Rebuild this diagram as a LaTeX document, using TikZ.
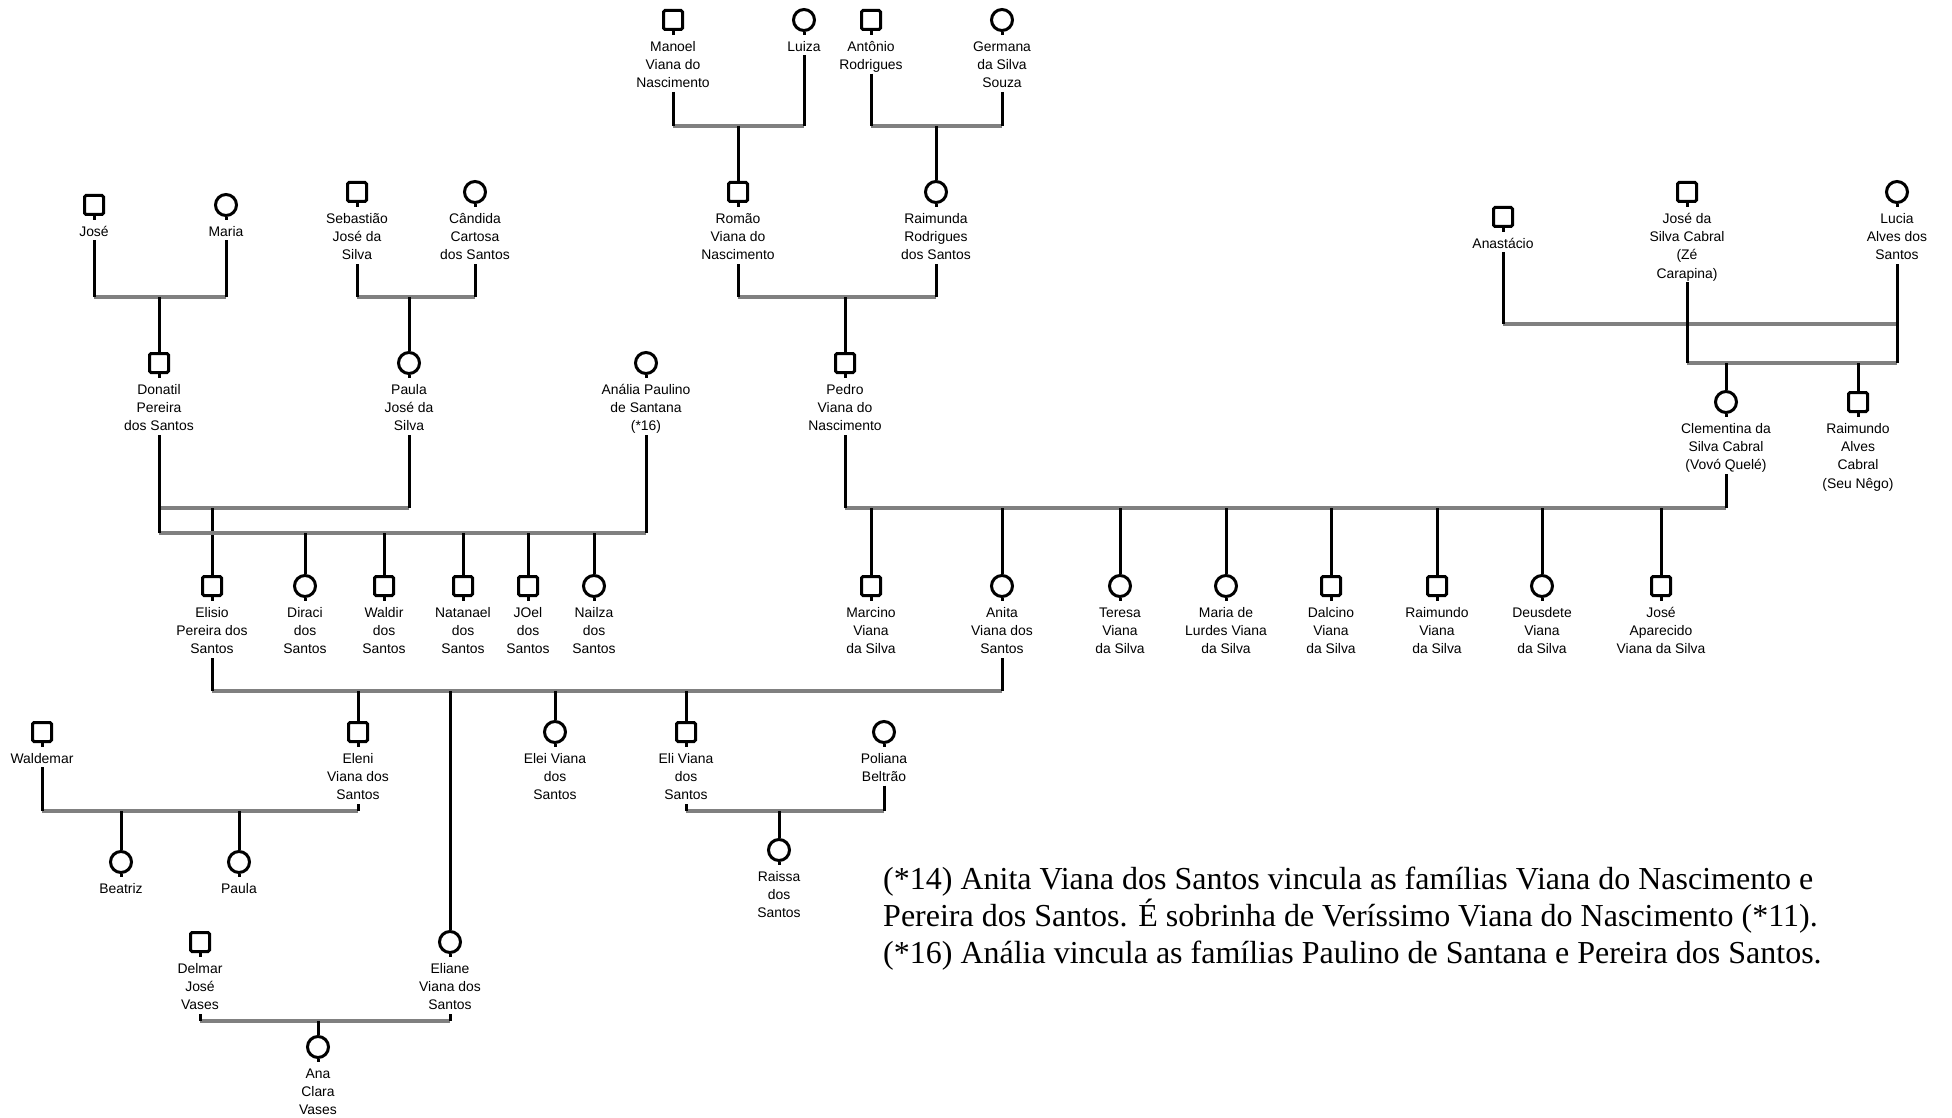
\documentclass[tikz,border=0pt]{standalone}
\usepackage{fontspec}
\newfontfamily\labfont{Liberation Sans}
\newfontfamily\notefont{Liberation Serif}
\definecolor{bargray}{RGB}{128,128,128}

% one person: name, symbol style, x, y, label lines
\newcommand\person[5]{%
  \node[#2] (#1) at (#3,#4) {};
  \node[lbl, anchor=north] (#1-l) at ([yshift=-18.2pt]#1.center)
    {\rule{0pt}{12.8pt}#5\rule[-4pt]{0pt}{4pt}};
  \draw[tie] (#1.south) -- ([yshift=3pt]#1-l.north);
}
% union bar between two partners at a given depth
\newcommand\couple[3]{%
  \coordinate (#1#2) at (0,#3);
  \draw[unionbar] (#1-l.south |- #1#2) -- (#2-l.south |- #1#2);
  \draw[tie] (#1-l.south) -- (#1-l.south |- #1#2);
  \draw[tie] (#2-l.south) -- (#2-l.south |- #1#2);
}
% descent line from a union bar to a child
\newcommand\kid[2]{%
  \draw[tie] (#2.north |- #1) -- (#2.north);
}

\begin{document}
\begin{tikzpicture}[x=1pt,y=-1pt,
  msq/.style={rectangle, draw, line width=3pt, minimum size=19pt, inner sep=0pt, rounded corners=1.5pt},
  fci/.style={circle, draw, line width=3pt, minimum size=21pt, inner sep=0pt},
  lbl/.style={font=\labfont\fontsize{13.9}{18.3}\selectfont, align=center, inner sep=0pt},
  tie/.style={line width=3pt, black},
  unionbar/.style={line width=4pt, draw=bargray},
  note/.style={font=\notefont\fontsize{32}{37}\selectfont, inner sep=0pt, anchor=base west}]
\useasboundingbox (0,0) rectangle (1952,1118);

% first generation
\person{manoel}{msq}{673}{20}{Manoel\\Viana do\\Nascimento}
\person{luiza}{fci}{804}{20}{Luiza}
\person{antonio}{msq}{871}{20}{Antônio\\Rodrigues}
\person{germana}{fci}{1002}{20}{Germana\\da Silva\\Souza}

% second generation
\person{jose}{msq}{94}{205}{José}
\person{maria}{fci}{226}{205}{Maria}
\person{sebastiao}{msq}{357}{192}{Sebastião\\José da\\Silva}
\person{candida}{fci}{475}{192}{Cândida\\Cartosa\\dos Santos}
\person{romao}{msq}{738}{192}{Romão\\Viana do\\Nascimento}
\person{raimunda}{fci}{936}{192}{Raimunda\\Rodrigues\\dos Santos}
\person{anastacio}{msq}{1503}{217}{Anastácio}
\person{josecabral}{msq}{1687}{192}{José da\\Silva Cabral\\(Zé\\Carapina)}
\person{lucia}{fci}{1897}{192}{Lucia\\Alves dos\\Santos}

% third generation
\person{donatil}{msq}{159}{363}{Donatil\\Pereira\\dos Santos}
\person{paula}{fci}{409}{363}{Paula\\José da\\Silva}
\person{analia}{fci}{646}{363}{Anália Paulino\\de Santana\\(*16)}
\person{pedro}{msq}{845}{363}{Pedro\\Viana do\\Nascimento}
\person{clementina}{fci}{1726}{402}{Clementina da\\Silva Cabral\\(Vovó Quelé)}
\person{raimundoc}{msq}{1858}{402}{Raimundo\\Alves\\Cabral\\(Seu Nêgo)}

% fourth generation
\person{elisio}{msq}{212}{586}{Elisio\\Pereira dos\\Santos}
\person{diraci}{fci}{305}{586}{Diraci\\dos\\Santos}
\person{waldir}{msq}{384}{586}{Waldir\\dos\\Santos}
\person{natanael}{msq}{463}{586}{Natanael\\dos\\Santos}
\person{joel}{msq}{528}{586}{JOel\\dos\\Santos}
\person{nailza}{fci}{594}{586}{Nailza\\dos\\Santos}
\person{marcino}{msq}{871}{586}{Marcino\\Viana\\da Silva}
\person{anita}{fci}{1002}{586}{Anita\\Viana dos\\Santos}
\person{teresa}{fci}{1120}{586}{Teresa\\Viana\\da Silva}
\person{mariadl}{fci}{1226}{586}{Maria de\\Lurdes Viana\\da Silva}
\person{dalcino}{msq}{1331}{586}{Dalcino\\Viana\\da Silva}
\person{raimundov}{msq}{1437}{586}{Raimundo\\Viana\\da Silva}
\person{deusdete}{fci}{1542}{586}{Deusdete\\Viana\\da Silva}
\person{joseap}{msq}{1661}{586}{José\\Aparecido\\Viana da Silva}

% fifth generation
\person{waldemar}{msq}{42}{732}{Waldemar}
\person{eleni}{msq}{358}{732}{Eleni\\Viana dos\\Santos}
\person{elei}{fci}{555}{732}{Elei Viana\\dos\\Santos}
\person{eli}{msq}{686}{732}{Eli Viana\\dos\\Santos}
\person{poliana}{fci}{884}{732}{Poliana\\Beltrão}
\person{delmar}{msq}{200}{942}{Delmar\\José\\Vases}
\person{eliane}{fci}{450}{942}{Eliane\\Viana dos\\Santos}

% sixth generation
\person{beatriz}{fci}{121}{862}{Beatriz}
\person{paulab}{fci}{239}{862}{Paula}
\person{raissa}{fci}{779}{850}{Raissa\\dos\\Santos}
\person{anaclara}{fci}{318}{1047}{Ana\\Clara\\Vases}

% unions and descent
\couple{manoel}{luiza}{126}      \kid{manoelluiza}{romao}
\couple{antonio}{germana}{126}   \kid{antoniogermana}{raimunda}
\couple{jose}{maria}{297}        \kid{josemaria}{donatil}
\couple{sebastiao}{candida}{297} \kid{sebastiaocandida}{paula}
\couple{romao}{raimunda}{297}    \kid{romaoraimunda}{pedro}
\couple{anastacio}{lucia}{324}
\couple{josecabral}{lucia}{363}
\kid{josecabrallucia}{clementina}
\kid{josecabrallucia}{raimundoc}
\couple{donatil}{paula}{508}     \kid{donatilpaula}{elisio}
\couple{donatil}{analia}{533}
\foreach \c in {diraci,waldir,natanael,joel,nailza} {\kid{donatilanalia}{\c}}
\couple{pedro}{clementina}{508}
\foreach \c in {marcino,anita,teresa,mariadl,dalcino,raimundov,deusdete,joseap} {\kid{pedroclementina}{\c}}
\couple{elisio}{anita}{691}
\foreach \c in {eleni,eliane,elei,eli} {\kid{elisioanita}{\c}}
\couple{waldemar}{eleni}{811}    \kid{waldemareleni}{beatriz} \kid{waldemareleni}{paulab}
\couple{eli}{poliana}{811}       \kid{elipoliana}{raissa}
\couple{delmar}{eliane}{1021}    \kid{delmareliane}{anaclara}

% notes
\node[note] (note1) at (883,889) {(*14) Anita Viana dos Santos vincula as famílias Viana do Nascimento e};
\node[note] (note2) at (883,926) {Pereira dos Santos. É sobrinha de Veríssimo Viana do Nascimento (*11).};
\node[note] (note3) at (883,963) {(*16) Anália vincula as famílias Paulino de Santana e Pereira dos Santos.};
\end{tikzpicture}
\end{document}
